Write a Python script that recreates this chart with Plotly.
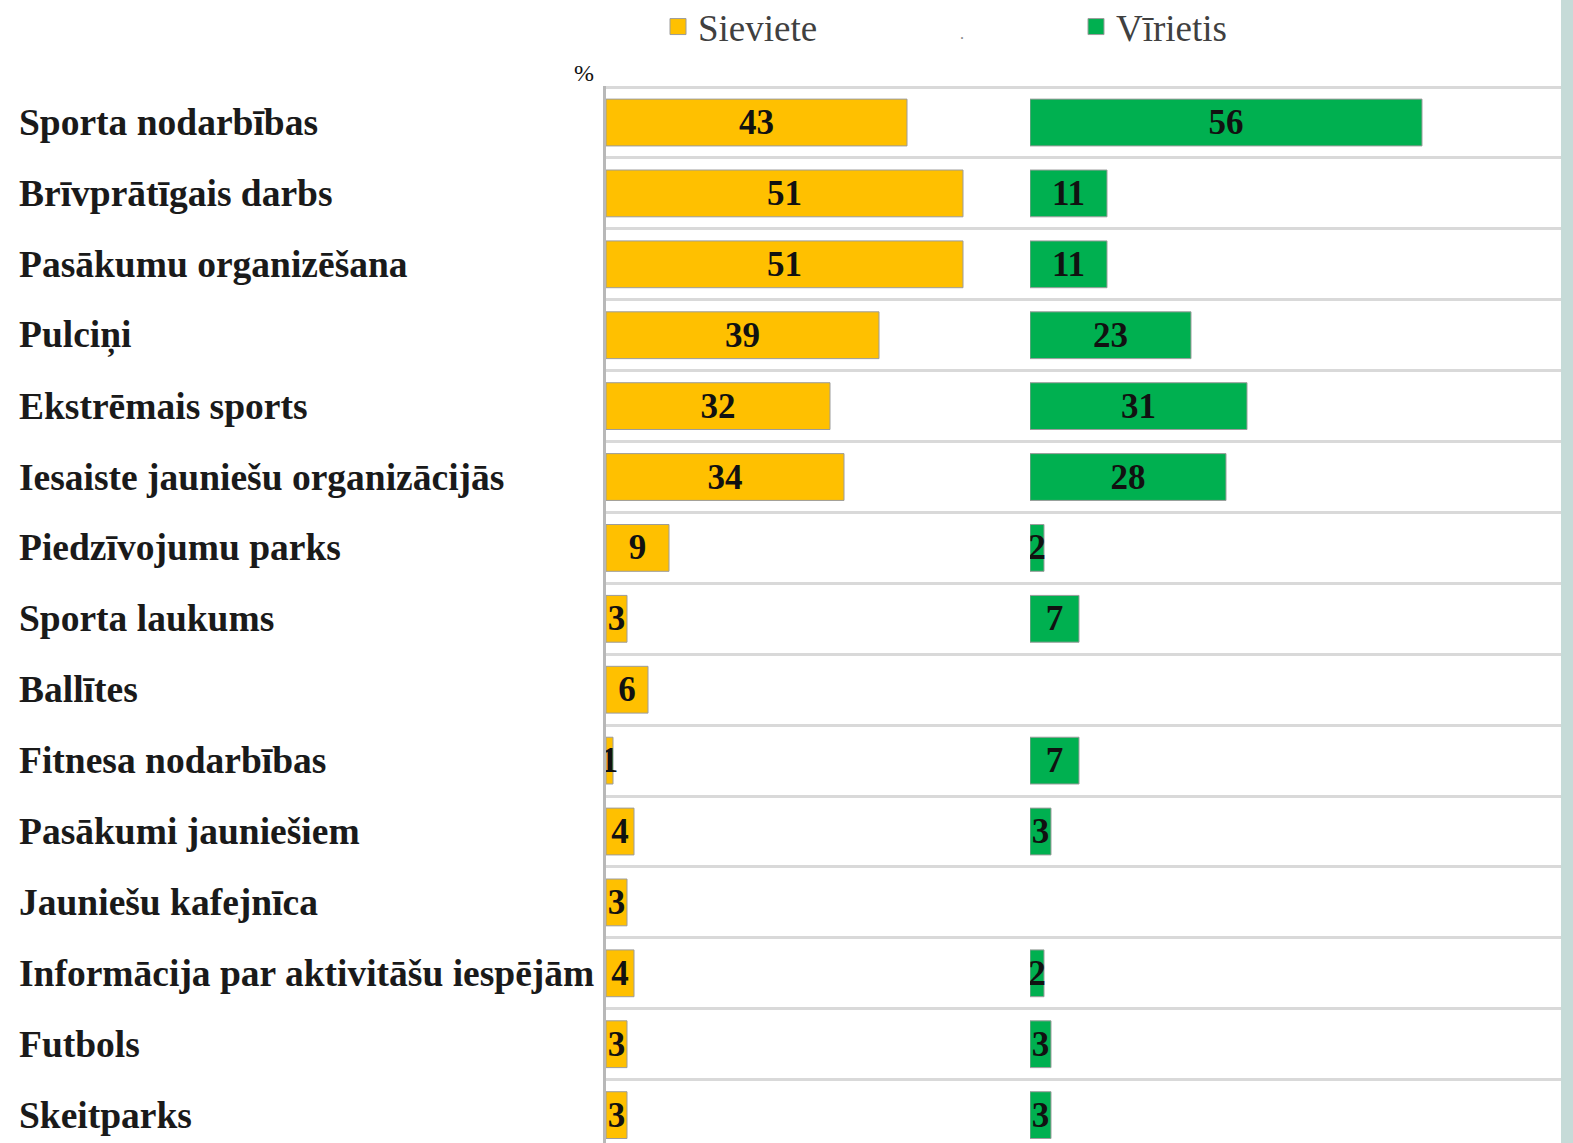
import plotly.graph_objects as go

categories = [
    "Sporta nodarbības",
    "Brīvprātīgais darbs",
    "Pasākumu organizēšana",
    "Pulciņi",
    "Ekstrēmais sports",
    "Iesaiste jauniešu organizācijās",
    "Piedzīvojumu parks",
    "Sporta laukums",
    "Ballītes",
    "Fitnesa nodarbības",
    "Pasākumi jauniešiem",
    "Jauniešu kafejnīca",
    "Informācija par aktivitāšu iespējām",
    "Futbols",
    "Skeitparks",
]
sieviete = [43, 51, 51, 39, 32, 34, 9, 3, 6, 1, 4, 3, 4, 3, 3]
virietis = [56, 11, 11, 23, 31, 28, 2, 7, None, 7, 3, None, 2, 3, 3]
series_names = ["Sieviete", "Vīrietis"]
series_colors = ["#FFC000", "#00B050"]
unit_label = "%"

FONT = "Liberation Serif"
W, H = 1573, 1143
L, R, T, B = 606, 12, 86, 0
PW = W - L - R
PH = H - T - B
split_px = 1030
d = (split_px - L) / PW
scale = 7.0  # px per percent
rows = list(range(len(categories)))
row_px = 70.9
ytop = -0.515
ybottom = ytop + PH / row_px

fig = go.Figure()
for vals, name, color, xa in [
    (sieviete, series_names[0], series_colors[0], "x"),
    (virietis, series_names[1], series_colors[1], "x2"),
]:
    fig.add_trace(go.Bar(
        y=rows, x=vals, orientation="h", name=name, showlegend=False,
        marker=dict(color=color, line=dict(color="#9c9c9c", width=1)),
        width=0.66,
        text=[str(v) if v else "" for v in vals],
        textposition="inside", insidetextanchor="middle", textangle=0,
        constraintext="none",
        textfont=dict(family=FONT, size=35, color="#111111", weight="bold"),
        xaxis=xa, yaxis="y", hoverinfo="skip",
    ))
# legend entries with larger square swatches
for name, color in zip(series_names, series_colors):
    fig.add_trace(go.Scatter(
        x=[None], y=[None], mode="markers", name=name,
        marker=dict(symbol="square", size=18, color=color, line=dict(color="#9c9c9c", width=1)),
        xaxis="x", yaxis="y", hoverinfo="skip",
    ))

hidden = dict(showgrid=False, zeroline=False, showticklabels=False, showline=False, ticks="")
fig.update_layout(
    width=W, height=H,
    margin=dict(l=L, r=R, t=T, b=B, autoexpand=False),
    paper_bgcolor="white", plot_bgcolor="white",
    barmode="group",
    xaxis=dict(domain=[0, d], range=[0, (split_px - L) / scale], anchor="y", **hidden),
    xaxis2=dict(domain=[d, 1], range=[0, (W - R - split_px) / scale], anchor="y", **hidden),
    yaxis=dict(range=[ybottom, ytop], anchor="x", showticklabels=False, zeroline=False,
               tickmode="linear", tick0=0.5, dtick=1, ticks="",
               showgrid=True, gridcolor="#d9d9d9", gridwidth=3,
               showline=True, linecolor="#b8b8b8", linewidth=3),
    showlegend=True,
    legend=dict(orientation="h", x=(658 - L) / PW, xanchor="left",
                y=1 + (T - 27) / PH, yanchor="middle",
                entrywidth=373, entrywidthmode="pixels",
                font=dict(family=FONT, size=37, color="#404040"),
                bgcolor="rgba(0,0,0,0)"),
    font=dict(family=FONT),
)

annotations = []
for i, c in enumerate(categories):
    annotations.append(dict(
        text=c, xref="paper", yref="y", x=(17 - L) / PW, y=i,
        xanchor="left", yanchor="middle", showarrow=False,
        font=dict(family=FONT, size=37.5, color="#1a1a1a", weight="bold"),
    ))
annotations.append(dict(text=unit_label, xref="paper", yref="paper",
                        x=(584 - L) / PW, y=1 + (T - 73) / PH,
                        xanchor="center", yanchor="middle",
                        showarrow=False, font=dict(family=FONT, size=24, color="#111111")))
annotations.append(dict(text=".", xref="paper", yref="paper",
                        x=(962 - L) / PW, y=1 + (T - 33) / PH,
                        xanchor="center", yanchor="middle",
                        showarrow=False, font=dict(family=FONT, size=16, color="#888888")))
fig.update_layout(annotations=annotations)

fig.add_shape(type="rect", xref="paper", yref="paper",
              x0=1, x1=1 + (R + 2) / PW, y0=-0.01, y1=1 + T / PH + 0.01,
              fillcolor="#c6dbd8", line=dict(width=0), layer="above")

fig.write_html("out.html", config={"displayModeBar": False},
               post_script="document.body.style.margin='0px';document.body.style.overflow='hidden';")
